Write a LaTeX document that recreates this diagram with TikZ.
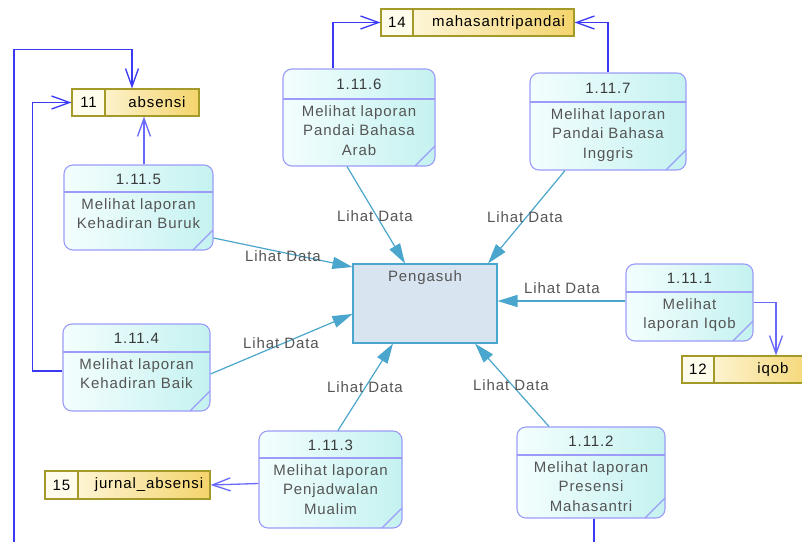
\documentclass[tikz,border=0pt]{standalone}
\usepackage{fontspec}
\setmainfont{Liberation Sans}[LetterSpace=6]
\usetikzlibrary{arrows.meta}
\definecolor{procborder}{HTML}{9C9CF8}
\definecolor{proclight}{HTML}{F4FEFE}
\definecolor{procdark}{HTML}{C4F2F0}
\definecolor{storeborder}{HTML}{A39A2A}
\definecolor{storelight}{HTML}{FFFCEC}
\definecolor{storedark}{HTML}{F4D46C}
\definecolor{flowblue}{HTML}{3A3AF5}
\definecolor{flowbluelight}{HTML}{6A6AFA}
\definecolor{flowteal}{HTML}{4AA6CC}
\definecolor{entfill}{HTML}{D8E4F0}
\definecolor{txtgray}{HTML}{555555}
\definecolor{numgray}{HTML}{3A3A3A}
\tikzset{
  procbox/.style={draw=procborder, line width=1.1pt, rounded corners=9pt, left color=proclight, right color=procdark, inner sep=0pt},
  procline/.style={draw=procborder, line width=1.1pt},
  numtext/.style={text=numgray, font=\fontsize{15}{19}\selectfont, inner sep=0pt},
  bodytext/.style={text=txtgray, font=\fontsize{15}{19.5}\selectfont, align=center, inner sep=0pt},
  storebox/.style={draw=storeborder, line width=1.1pt, left color=storelight, right color=storedark, inner sep=0pt},
  storecell/.style={draw=storeborder, line width=1.1pt, fill=storelight, inner sep=0pt},
  storetext/.style={text=black, font=\fontsize{15}{19}\selectfont, inner sep=0pt},
  entbox/.style={draw=flowteal, line width=1.1pt, fill=entfill, inner sep=0pt},
  blueflow/.style={draw=flowblue, line width=1.3pt, -{Straight Barb[length=18pt,width=13pt,line width=1.3pt]}},
  tealflow/.style={draw=flowteal, line width=1.2pt, -{Triangle[length=20pt,width=12pt]}},
  flowlabel/.style={text=txtgray, font=\fontsize{15}{19}\selectfont, inner sep=0pt}
}
\newcommand\dfdproc[8]{%
  \node[procbox, minimum width={#4-#2}, minimum height={#5-#3}] (#1) at ({(#2+#4)/2},{(#3+#5)/2}) {};
  \draw[procline] (#2,#6) -- (#4,#6);
  \draw[procline] (#4,{#5-20}) -- ({#4-20},#5);
  \node[numtext] (#1n) at ({(#2+#4)/2},{(#3+#6)/2+0.5}) {#7};
  \node[bodytext, anchor=north] (#1t) at ({(#2+#4)/2},{#6+6}) {#8};
}
\newcommand\dfdstore[8]{%
  \node[storebox, minimum width={#4-#2}, minimum height={#5-#3}] (#1) at ({(#2+#4)/2},{(#3+#5)/2}) {};
  \node[storecell, minimum width={#6-#2}, minimum height={#5-#3}] (#1c) at ({(#2+#6)/2},{(#3+#5)/2}) {};
  \node[storetext] (#1n) at ({(#2+#6)/2},{(#3+#5)/2}) {#7};
  \node[storetext] (#1t) at ({(#6+#4)/2+5},{(#3+#5)/2}) {#8};
}
\begin{document}
\begin{tikzpicture}[x=1pt, y=-1pt]
\useasboundingbox[fill=white] (0,0) rectangle (802,541);

% data stores
\dfdstore{s11}{72}{89}{199}{116}{105}{11}{absensi}
\dfdstore{s14}{381}{9}{574}{36}{413}{14}{mahasantripandai}
\dfdstore{s12}{682}{356}{822}{383}{714}{12}{iqob}
\dfdstore{s15}{45}{471}{210}{499}{78}{15}{jurnal\_absensi}

% external entity
\node[entbox, minimum width=144, minimum height=79] (peng) at (425,303.5) {};
\node[bodytext] (pengt) at (425,278) {Pengasuh};

% processes
\dfdproc{p6}{283}{69}{435}{166}{99}{1.11.6}{Melihat laporan\\Pandai Bahasa\\Arab}
\dfdproc{p7}{530}{73}{686}{170}{102}{1.11.7}{Melihat laporan\\Pandai Bahasa\\Inggris}
\dfdproc{p5}{64}{165}{213}{250}{192}{1.11.5}{Melihat laporan\\Kehadiran Buruk}
\dfdproc{p4}{63}{324}{210}{411}{352}{1.11.4}{Melihat laporan\\Kehadiran Baik}
\dfdproc{p1}{626}{264}{753}{341}{292}{1.11.1}{Melihat\\laporan Iqob}
\dfdproc{p3}{259}{431}{402}{528}{458}{1.11.3}{Melihat laporan\\Penjadwalan\\Mualim}
\dfdproc{p2}{517}{427}{665}{518}{455}{1.11.2}{Melihat laporan\\Presensi\\Mahasantri}

% blue flows to data stores
\draw[blueflow] ([xshift=-26pt]p6.north) |- (s14.west);
\draw[blueflow] (p7.north) |- (s14.east);
\draw[blueflow, draw=flowbluelight] ([xshift=5.5pt]p5.north) -- ([xshift=8.5pt]s11.south);
\coordinate (loopend) at (14,560);
\draw[blueflow] (loopend) |- ([xshift=-3.5pt,yshift=39pt]s11.north) -- ([xshift=-3.5pt]s11.north);
\draw[blueflow] ([yshift=-3.5pt]p4.west) -| ([xshift=-39pt]s11.west) -- (s11.west);
\draw[blueflow, draw=flowbluelight] (p1.east) -| ([xshift=24pt]s12.north);
\draw[blueflow, draw=flowbluelight] ([yshift=-4pt]p3.west) -- (s15.east);
\coordinate (p2end) at (594,560);
\draw[draw=flowblue, line width=1.3pt] ([xshift=3pt]p2.south) -- (p2end);

% teal flows to Pengasuh
\draw[tealflow] ([xshift=-12pt]p6.south) -- ([xshift=-20pt]peng.north);
\draw[tealflow] ([xshift=-43pt]p7.south) -- ([xshift=63pt]peng.north);
\draw[tealflow] ([yshift=-30.5pt]p5.east) -- ([yshift=36.5pt]peng.west);
\draw[tealflow] ([yshift=-6.5pt]p4.east) -- ([yshift=-10.5pt]peng.west);
\draw[tealflow] ([xshift=7.5pt]p3.north) -- ([xshift=-32pt]peng.south);
\draw[tealflow] ([xshift=-42pt]p2.north) -- ([xshift=50pt]peng.south);
\draw[tealflow] ([yshift=1.5pt]p1.west) -- ([yshift=2.5pt]peng.east);

% flow labels
\node[flowlabel] (l6) at (375,216) {Lihat Data};
\node[flowlabel] (l7) at (525,217) {Lihat Data};
\node[flowlabel] (l5) at (283,256) {Lihat Data};
\node[flowlabel] (l4) at (281,343) {Lihat Data};
\node[flowlabel] (l3) at (365,387) {Lihat Data};
\node[flowlabel] (l2) at (511,385) {Lihat Data};
\node[flowlabel] (l1) at (562,288) {Lihat Data};
\end{tikzpicture}
\end{document}
